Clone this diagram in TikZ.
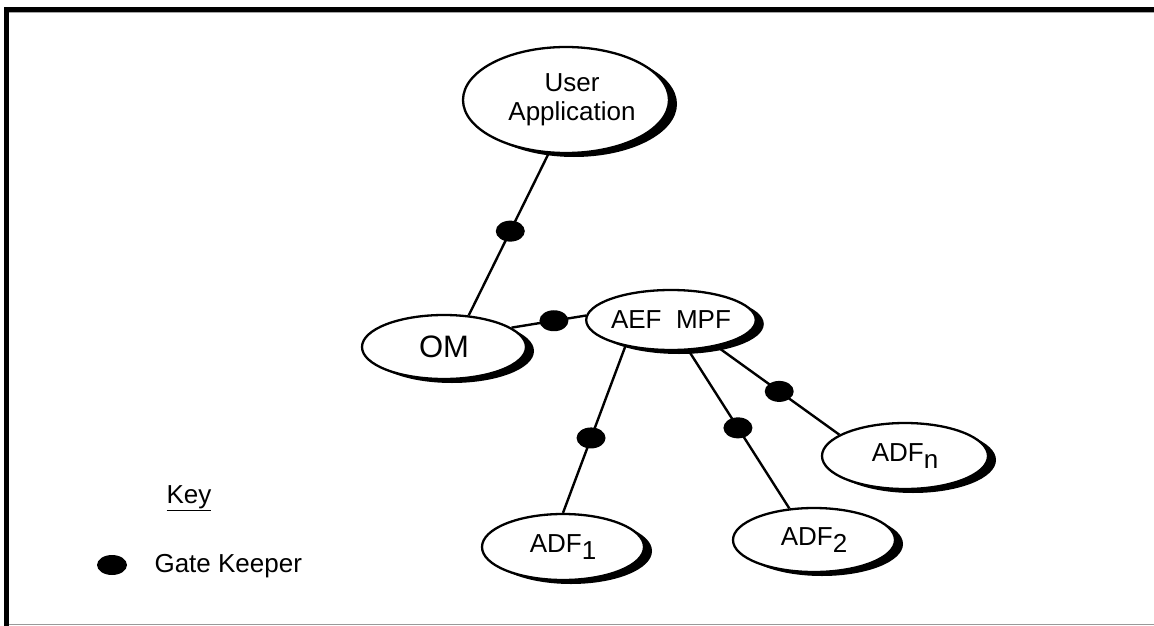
\documentclass[tikz,border=0pt]{standalone}
\usepackage{fontspec}
\setmainfont{Liberation Sans}
\usetikzlibrary{shapes.geometric,shadows}

\tikzset{
  proc/.style={ellipse, draw=black, line width=2.3pt, fill=white, inner sep=0pt,
    align=center,
    drop shadow={shadow xshift=8pt, shadow yshift=-4pt, fill=black, opacity=1}},
  gk/.style={ellipse, fill=black, draw=none, inner sep=0pt,
    minimum width=29pt, minimum height=21pt},
  link/.style={line width=2.4pt},
  lbl/.style={font=\fontsize{26}{29}\selectfont},
}
\newcommand{\dn}[1]{\raisebox{-7pt}{#1}}

\begin{document}
\begin{tikzpicture}[x=1pt, y=-1pt]
  \useasboundingbox (0,0) rectangle (1154,626);
  \fill[white] (0,0) rectangle (1154,626);

  % page frame: heavy top and left edges, faint bottom edge
  \fill[black] (4,7) rectangle (1154,12);
  \fill[black] (4,7) rectangle (9,626);
  \draw[gray!70, line width=0.8pt] (9,12.6) -- (1154,12.6);
  \draw[gray!80, line width=1.4pt] (9,624.5) -- (1154,624.5);

  % components
  \node[proc, lbl, minimum width=206pt, minimum height=106pt] (ua) at (566,100)
    {\hspace*{12pt}User\\\hspace*{12pt}Application};
  \node[proc, minimum width=164pt, minimum height=64pt,
        font=\fontsize{31}{34}\selectfont] (om) at (444,347) {OM};
  \node[proc, lbl, minimum width=162pt, minimum height=60pt] (aef) at (671,320)
    {AEF\ \ MPF};
  \node[proc, lbl, minimum width=162pt, minimum height=66pt] (adf1) at (563,547)
    {ADF\dn{1}};
  \node[proc, lbl, minimum width=162pt, minimum height=64pt] (adf2) at (814,540)
    {ADF\dn{2}};
  \node[proc, lbl, minimum width=166pt, minimum height=66pt] (adfn) at (905,456)
    {ADF\dn{n}};

  % connections, each guarded by a gate keeper
  \draw[link] (ua.-108) -- node[gk, pos=0.48] (g1) {} (om.52);
  \draw[link] (om.16) -- node[gk, pos=0.57] (g2) {} (aef.177);
  \draw[link] (aef.-150) -- node[gk, pos=0.55] (g3) {} (adf1.90);
  \draw[link] (aef.-60) -- node[gk, pos=0.49] (g4) {} (adf2.128);
  \draw[link] (aef.-30) -- node[gk, pos=0.51] (g5) {} (adfn.162);

  % key
  \node[lbl, anchor=base west] (keyt) at (163,503) {\underline{Key}};
  \node[gk, minimum width=30pt, minimum height=20pt] (keydot) at (112,565) {};
  \node[lbl, anchor=base west] (keyl) at (151,572) {Gate Keeper};
\end{tikzpicture}
\end{document}
